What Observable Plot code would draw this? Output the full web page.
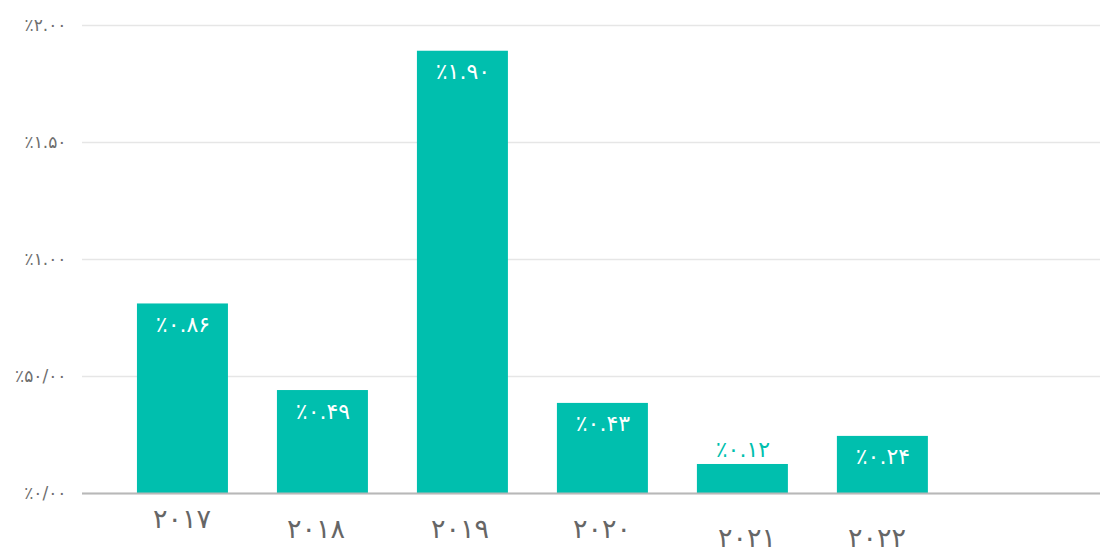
<!DOCTYPE html>
<html>
<head>
<meta charset="utf-8">
<script src="https://cdn.jsdelivr.net/npm/d3@7"></script>
<script src="https://cdn.jsdelivr.net/npm/@observablehq/plot@0.6"></script>
<style>
  html, body { margin: 0; padding: 0; background: #fff; }
</style>
</head>
<body>
<div id="chart"></div>
<script>
const years = ["2017", "2018", "2019", "2020", "2021", "2022"];
const yearLabels = ["۲۰۱۷", "۲۰۱۸", "۲۰۱۹", "۲۰۲۰", "۲۰۲۱", "۲۰۲۲"];
const values = [0.81, 0.44, 1.89, 0.385, 0.124, 0.244];
const valueLabels = ["٪۰.۸۶", "٪۰.۴۹", "٪۱.۹۰", "٪۰.۴۳", "٪۰.۱۲", "٪۰.۲۴"];
const yTicks = [0, 0.5, 1, 1.5, 2];
const yTickLabels = ["٪۰/۰۰", "٪۵۰/۰۰", "٪۱.۰۰", "٪۱.۵۰", "٪۲.۰۰"];

const rows = years.map((y, i) => ({year: y, value: values[i], label: valueLabels[i], yearLabel: yearLabels[i]}));

const teal = "#00bfae";
const inside = rows.filter(d => d.value > 0.2);
const outside = rows.filter(d => d.value <= 0.2);

// small per-label offsets of the year labels as seen in the reference
const yearDy = [26, 36, 36, 36, 45, 45];
const yearDx = [-1, -7, -3, -1, 4, -6];

const chart = Plot.plot({
  width: 1100,
  height: 552,
  marginLeft: 82,
  marginRight: 0,
  marginTop: 25,
  marginBottom: 59,
  style: {fontFamily: "'DejaVu Sans', sans-serif", background: "white"},
  x: {domain: years, range: [82, 1100], paddingInner: 0.35, paddingOuter: 0.811, align: 0.242, round: false, axis: null},
  y: {domain: [0, 2], axis: null, label: null},
  marks: [
    Plot.gridY(yTicks, {stroke: "#e6e6e6", strokeOpacity: 1, strokeWidth: 1.5}),
    Plot.axisY({ticks: yTicks, tickFormat: d => yTickLabels[yTicks.indexOf(d)], tickSize: 0, tickPadding: 16, fontSize: 17, color: "#6e6e6e", label: null}),
    Plot.barY(rows, {x: "year", y: "value", fill: teal}),
    Plot.ruleY([0], {stroke: "#b8b8b8", strokeWidth: 2}),
    Plot.text(inside, {x: "year", y: "value", text: "label", dy: 21, fill: "white", fontSize: 22, lineAnchor: "middle"}),
    Plot.text(outside, {x: "year", y: "value", text: "label", dy: -15, fill: teal, fontSize: 22, lineAnchor: "middle"}),
    ...rows.map((d, i) => Plot.text([d], {x: "year", y: 0, text: "yearLabel", dy: yearDy[i], dx: yearDx[i], fill: "#666", fontSize: 27, lineAnchor: "middle"}))
  ]
});
document.getElementById("chart").appendChild(chart);
</script>
</body>
</html>
